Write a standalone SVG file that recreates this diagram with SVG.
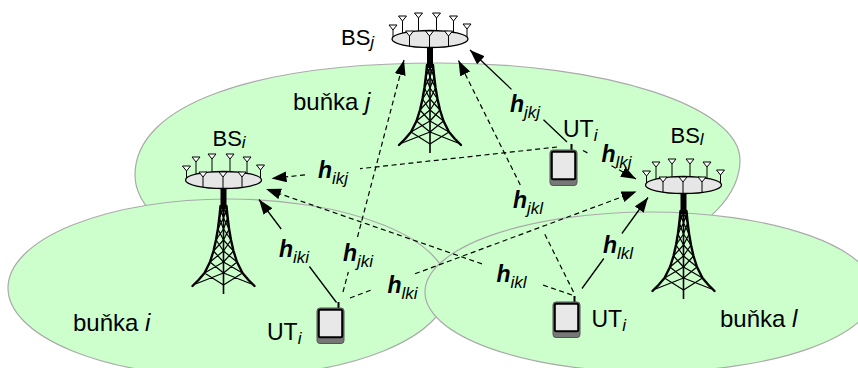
<svg xmlns="http://www.w3.org/2000/svg" width="858" height="368" viewBox="0 0 858 368">
<style>
  .cell{fill:#ccffcc;stroke:#aaaaaa;stroke-width:1.2}
  text{font-family:"Liberation Sans",Arial,Helvetica,sans-serif;fill:#000}
  .bs{font-size:22px}
  .cellname{font-size:24px}
  .ut{font-size:23px}
  .sub{font-size:17px;font-style:italic}
  .it{font-style:italic}
  .ch{font-size:23px;font-weight:bold;font-style:italic}
  .chs{font-size:17px;font-weight:normal;font-style:italic}
  .leg{fill:none;stroke:#000;stroke-width:2.4;stroke-linejoin:round;stroke-linecap:round}
  .brace{fill:none;stroke:#000;stroke-width:1.2}
  .stalk{fill:none;stroke:#000;stroke-width:1}
  .tri{fill:#fff;stroke:#000;stroke-width:1}
  .dish{fill:#e6e6e6;stroke:#000;stroke-width:1.3}
  .link{fill:none;stroke:#000;stroke-width:1.3}
  .dash{stroke-width:1.2;stroke-dasharray:5 3.5}
</style>
<defs>
  <marker id="arrow" markerUnits="userSpaceOnUse" viewBox="0 0 16 12" markerWidth="16" markerHeight="12" refX="15" refY="5.5" orient="auto">
    <path d="M0,0 L15,5.5 L0,11 Z" fill="#000"/>
  </marker>
  <!-- single antenna element -->
  <path id="ant" class="tri" d="M-4,0 H4 L0,5 Z"/>
  <!-- left half of the lattice tower -->
  <g id="half">
    <polyline class="leg" points="-3,26 -3.2,28 -4.2,38 -5.6,49 -7.5,60 -10,71 -13.5,82 -19,93 -25,100 -31,106"/>
    <path class="brace" d="M-3.2,28 L0,38 M0,28 L-4.2,38 M-4.2,38 L0,49 M0,38 L-5.6,49 M-5.6,49 L0,60 M0,49 L-7.5,60 M-7.5,60 L0,71 M0,60 L-10,71 M-10,71 L0,82 M0,71 L-13.5,82 M-13.5,82 L0,93 M0,82 L-19,93 M-19,93 L0,105 M0,93 L-28,104"/>
  </g>
  <!-- base station: antenna ring on a lattice tower, origin at ring centre -->
  <g id="tower">
    <path class="stalk" d="M-37,-9 V-1 M-27.5,-18 V-5.5 M-11.5,-21 V-8 M6.5,-21 V-8 M23.5,-18 V-6.5 M37,-10 V-1"/>
    <use href="#ant" x="-37" y="-14"/>
    <use href="#ant" x="-27.5" y="-23"/>
    <use href="#ant" x="-11.5" y="-26"/>
    <use href="#ant" x="6.5" y="-26"/>
    <use href="#ant" x="23.5" y="-23"/>
    <use href="#ant" x="37" y="-15"/>
    <rect x="-3" y="7" width="6" height="22" fill="#000"/>
    <use href="#half"/>
    <use href="#half" transform="scale(-1,1)"/>
    <line x1="0" y1="26" x2="0" y2="114" stroke="#000" stroke-width="1.6"/>
    <ellipse class="dish" cx="0" cy="0" rx="38" ry="8.5"/>
    <path class="stalk" d="M-20.5,-3 V7.3 M-0.5,-3 V8.5 M18.5,-3 V7.5"/>
    <use href="#ant" x="-20.5" y="-8"/>
    <use href="#ant" x="-0.5" y="-8"/>
    <use href="#ant" x="18.5" y="-8"/>
  </g>
  <!-- user terminal handset, origin at top-left of body -->
  <g id="phone">
    <line x1="21.5" y1="-6" x2="21.5" y2="1" stroke="#000" stroke-width="2"/>
    <rect x="0" y="0" width="27" height="35.5" rx="3" fill="#777" stroke="#555" stroke-width="1"/>
    <rect x="1.8" y="1.8" width="23.4" height="27.5" rx="1.5" fill="#e8e8e8" stroke="#000" stroke-width="2"/>
  </g>
</defs>

<!-- cells -->
<g id="cell-j">
  <path class="cell" d="M135,175 C135,105.6 250.9,63 440,63 C605.7,63 740,106.4 740,160 C740,231.8 605.7,290 440,290 C271.6,290 135,238.5 135,175 Z"/>
  <text class="cellname" x="293" y="110">buňka <tspan class="it">j</tspan></text>
</g>
<g id="cell-i">
  <ellipse class="cell" cx="228" cy="288" rx="220" ry="89"/>
  <text class="cellname" x="73" y="330.5">buňka <tspan class="it">i</tspan></text>
</g>
<g id="cell-l">
  <ellipse class="cell" cx="650" cy="292" rx="225" ry="80"/>
  <text class="cellname" x="720" y="326.5">buňka <tspan class="it">l</tspan></text>
</g>

<!-- base stations -->
<g id="bs-j">
  <use href="#tower" transform="translate(430,39)"/>
  <text class="bs" x="341" y="45">BS<tspan class="sub" dy="3">j</tspan></text>
</g>
<g id="bs-i">
  <use href="#tower" transform="translate(223.5,180)"/>
  <text class="bs" x="212.5" y="145.5">BS<tspan class="sub" dy="2">i</tspan></text>
</g>
<g id="bs-l">
  <use href="#tower" transform="translate(683.5,185)"/>
  <text class="bs" x="670.5" y="142.5">BS<tspan class="sub" dy="2">l</tspan></text>
</g>

<!-- channels (broken around their labels) -->
<g id="connectors">
  <path class="link" marker-end="url(#arrow)" d="M336.5,302.5 L309.4,266.5 M281.2,229 L259,199.5"/>
  <path class="link dash" marker-end="url(#arrow)" d="M343,292 L348.3,272 M357.5,237 L404,60"/>
  <path class="link dash" marker-end="url(#arrow)" d="M350,298 L373,289.4 M415,273.8 L636.5,191.5"/>
  <path class="link dash" marker-end="url(#arrow)" d="M557,147 L360,168.7 M305,174.8 L271.5,178.5"/>
  <path class="link" marker-end="url(#arrow)" d="M567,142 L543.5,119.7 M511.5,89.4 L470,50"/>
  <path class="link dash" marker-end="url(#arrow)" d="M583,150.5 L587.5,152.9 M611.5,165.8 L636,179"/>
  <path class="link dash" marker-end="url(#arrow)" d="M573.5,292 L544.2,233 M520.3,185 L458.5,60.5"/>
  <path class="link dash" marker-end="url(#arrow)" d="M572,295 L540,284 M482,263.9 L266,189"/>
  <path class="link" marker-end="url(#arrow)" d="M582,288.5 L603.8,258.5 M621.9,233.5 L648,197.5"/>
</g>

<!-- channel labels -->
<g id="channel-labels">
  <text class="ch" x="510" y="111.5">h<tspan class="chs" dy="6">jkj</tspan></text>
  <text class="ch" x="318" y="178">h<tspan class="chs" dy="6">ikj</tspan></text>
  <text class="ch" x="601.5" y="161.5">h<tspan class="chs" dy="6">lkj</tspan></text>
  <text class="ch" x="513" y="207.5">h<tspan class="chs" dy="6">jkl</tspan></text>
  <text class="ch" x="279" y="256.5">h<tspan class="chs" dy="6">iki</tspan></text>
  <text class="ch" x="343" y="261">h<tspan class="chs" dy="6">jki</tspan></text>
  <text class="ch" x="387.5" y="293">h<tspan class="chs" dy="6">lki</tspan></text>
  <text class="ch" x="496.5" y="281.5">h<tspan class="chs" dy="6">ikl</tspan></text>
  <text class="ch" x="603" y="253">h<tspan class="chs" dy="6">lkl</tspan></text>
</g>

<!-- user terminals -->
<g id="ut-i-left">
  <use href="#phone" transform="translate(317,308)"/>
  <text class="ut" x="267" y="340">UT<tspan class="sub" dy="4">i</tspan></text>
</g>
<g id="ut-i-top">
  <use href="#phone" transform="translate(550,150)"/>
  <text class="ut" x="563" y="136.5">UT<tspan class="sub" dy="4">i</tspan></text>
</g>
<g id="ut-i-right">
  <use href="#phone" transform="translate(553,302)"/>
  <text class="ut" x="591.5" y="326.5">UT<tspan class="sub" dy="4">i</tspan></text>
</g>
</svg>
